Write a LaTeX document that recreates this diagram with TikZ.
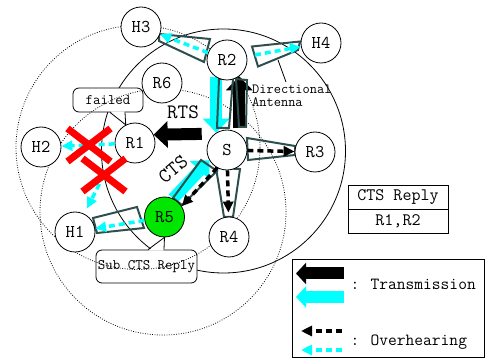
\documentclass[tikz,border=0pt]{standalone}
\usepackage{fontspec}
\usepackage{tikz}
\usetikzlibrary{
  arrows.meta,
  positioning,
  calc,
  shapes.misc
}
\definecolor{AntennaGray}{RGB}{47,79,79}
\definecolor{HearCyan}{RGB}{0,255,255}
\definecolor{ReplyGreen}{RGB}{0,230,0}
\definecolor{FailRed}{RGB}{255,0,0}
\pgfdeclarelayer{ranges}
\pgfdeclarelayer{sendlayer}
\pgfdeclarelayer{beamlayer}
\pgfdeclarelayer{front}
\pgfsetlayers{ranges,sendlayer,beamlayer,main,front}
\tikzset{
  station/.style={
    draw,
    circle,
    fill=white,
    line width=0.8pt,
    minimum size=40pt,
    inner sep=0pt,
    font=\ttfamily\fontsize{18}{18}\selectfont
  },
  replystation/.style={station,fill=ReplyGreen},
  notebox/.style={
    draw,
    fill=white,
    rounded corners=6pt,
    line width=0.8pt,
    inner sep=0pt,
    font=\ttfamily\fontsize{14.5}{14.5}\selectfont
  },
  notetext/.style={inner sep=0pt,font=\ttfamily\fontsize{14}{13}\selectfont},
  tablecell/.style={
    draw,
    line width=0.8pt,
    minimum width=100pt,
    minimum height=24pt,
    inner sep=0pt,
    outer sep=0pt,
    font=\ttfamily\fontsize{17.5}{17.5}\selectfont
  },
  keytext/.style={inner sep=0pt,font=\ttfamily\fontsize{17}{17}\selectfont},
  msgtext/.style={inner sep=0pt,font=\ttfamily\fontsize{20.5}{20.5}\selectfont},
  rangeline/.style={line width=0.8pt,dash pattern=on 0.8pt off 1.6pt},
  solidrange/.style={line width=0.8pt},
  beamline/.style={draw=AntennaGray,line width=2pt},
  txblack/.style={-{Triangle[length=14pt,width=26pt]},line width=12pt,draw=black},
  txcyan/.style={txblack,draw=HearCyan},
  keytxblack/.style={txblack,-{Triangle[length=10pt,width=21pt]}},
  keytxcyan/.style={keytxblack,draw=HearCyan},
  ovblack/.style={-{Triangle[length=11pt,width=10pt]},line width=3.5pt,dash pattern=on 6pt off 4pt,draw=black},
  ovcyan/.style={ovblack,draw=HearCyan},
  failmark/.style={cross out,draw=FailRed,line width=7pt,minimum width=36pt,minimum height=26pt,inner sep=0pt}
}

\begin{document}
\begin{tikzpicture}[x=1pt,y=-1pt]
  \useasboundingbox (0,0) rectangle (485,358);

  % stations
  \node[station] (H3) at (141,27) {H3};
  \node[station] (R2) at (227,60) {R2};
  \node[station] (H4) at (321,43) {H4};
  \node[station] (R6) at (162,83) {R6};
  \node[station] (R1) at (135,143) {R1};
  \node[station] (H2) at (41,147) {H2};
  \node[station] (S) at (227,150) {S};
  \node[station] (R3) at (315,152) {R3};
  \node[replystation] (R5) at (164.5,217) {R5};
  \node[station] (H1) at (75,232) {H1};
  \node[station] (R4) at (229,237) {R4};

  % ranges and notes
  \begin{pgfonlayer}{ranges}
    \draw[solidrange] (223.5,151) circle[radius=122pt];
    \node[notebox,minimum width=70pt,minimum height=24pt] (failed) at (108,100) {failed};
    \fill[white] ($(failed.south)+(2.5,-1)$) -- (R1.117) -- ($(failed.south)+(16.5,-1)$) -- cycle;
    \draw[line width=0.8pt] ($(failed.south)+(2,0)$) -- (R1.117) -- ($(failed.south)+(17,0)$);
    \node[notebox,minimum width=101pt,minimum height=33pt] (subcts) at (146.5,266.5) {Sub CTS Reply};
    \fill[white] ($(subcts.north)+(2,1)$) -- (R5.south) -- ($(subcts.north)+(17,1)$) -- cycle;
    \draw[line width=0.8pt] ($(subcts.north)+(1.5,0)$) -- (R5.south) -- ($(subcts.north)+(17.5,0)$);
    \draw[rangeline] (138,147.5) circle[radius=122pt];
    \draw[rangeline] (163,212) circle[radius=123pt];
  \end{pgfonlayer}

  % transmissions
  \begin{pgfonlayer}{sendlayer}
    \draw[txcyan] (R2.-122) -- (S.122);
    \draw[txblack,shorten <=6pt] (S.53) -- (R2.-53);
    \draw[txblack,shorten <=13pt] (S.127) -- (R1.24);
    \draw[txcyan] (R5.65) -- (S.210);
  \end{pgfonlayer}

  % directional antennas
  \begin{pgfonlayer}{beamlayer}
    \draw[beamline] (159,34) -- (210,39) -- (204,62) -- (159,41) -- cycle;
    \draw[beamline] (252,46.5) -- (300,41.5) -- (298,50) -- (258,66.5) -- cycle;
    \draw[beamline] (219,79) -- (233,79) -- (229,128) -- (217,128) -- cycle;
    \draw[beamline] (236,79) -- (247,80) -- (246,127) -- (239,127) -- cycle;
    \draw[beamline] (247,138) -- (295,146) -- (295,155) -- (248,160) -- cycle;
    \draw[beamline] (216,168) -- (240,169) -- (233,217) -- (224,217) -- cycle;
    \draw[beamline] (201,160) -- (217,171) -- (182,205) -- (173,198) -- cycle;
    \draw[beamline] (93,218) -- (137,207) -- (144,228) -- (97,233) -- cycle;
  \end{pgfonlayer}

  % overhearing
  \coordinate (lossA) at (89,145);
  \coordinate (lossB) at (104,175);
  \draw[ovcyan] (R2) -- (H3);
  \draw[ovcyan,shorten <=8pt] (R2) -- (H4);
  \draw[ovblack] (S) -- (R3);
  \draw[ovblack,shorten >=4pt] (S) -- (R4);
  \draw[ovblack] (S.241) -- (R5.32);
  \draw[ovcyan] (R5) -- (H1);
  \draw[ovcyan] (R1) -- (H2);
  \draw[ovcyan,shorten >=6pt] (lossB) -- (H1);
  \node[failmark] (crossA) at (lossA) {};
  \node[failmark] (crossB) at (lossB) {};

  \node[msgtext] (rts) at (183,112.5) {RTS};
  \node[msgtext,rotate=40] (cts) at (173,169.5) {CTS};

  \node[notetext,anchor=north west,align=left] (antennalabel) at (252,85) {Directional\\Antenna};
  \coordinate (antennaedge) at (278,60);
  \draw[line width=0.8pt] ($(antennalabel.north west)+(34,-3)$) -- (antennaedge);

  % reply table
  \node[tablecell] (replyhead) at (398,197) {CTS Reply};
  \node[tablecell,below=0pt of replyhead] (replybody) {R1,R2};

  % legend
  \draw[line width=0.8pt] (292,259) rectangle (484.5,357.5);
  \coordinate (keyTxA) at (344,273.5);
  \coordinate (keyTxAtip) at (296,273.5);
  \coordinate (keyTxB) at (344,297);
  \coordinate (keyTxBtip) at (296,297);
  \draw[keytxblack] (keyTxA) -- (keyTxAtip);
  \draw[keytxcyan] (keyTxB) -- (keyTxBtip);
  \node[keytext,anchor=base] (keyColA) at (355,289.5) {:};
  \node[keytext,anchor=base west] (keyTx) at (370.5,289.5) {Transmission};
  \coordinate (keyOvA) at (342,331);
  \coordinate (keyOvAtip) at (301,331);
  \coordinate (keyOvB) at (342,350);
  \coordinate (keyOvBtip) at (301,350);
  \draw[ovblack] (keyOvA) -- (keyOvAtip);
  \draw[ovcyan] (keyOvB) -- (keyOvBtip);
  \node[keytext,anchor=base] (keyColB) at (355,345.7) {:};
  \node[keytext,anchor=base west] (keyOv) at (370.5,345.7) {Overhearing};
\end{tikzpicture}
\end{document}
